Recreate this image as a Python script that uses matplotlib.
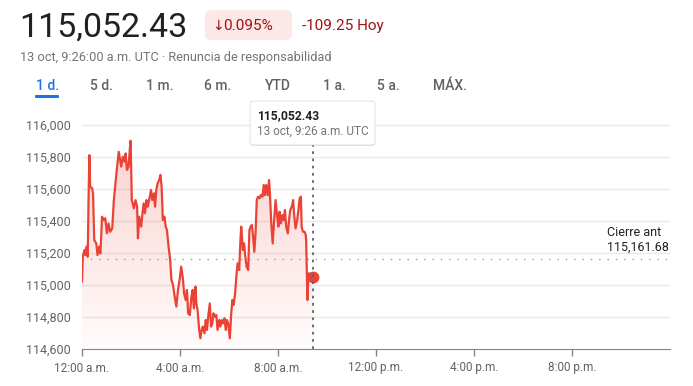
import matplotlib
matplotlib.use('Agg')
import matplotlib.pyplot as plt
import numpy as np
from matplotlib.patches import FancyBboxPatch
from matplotlib.ticker import FuncFormatter

plt.rcParams['font.family'] = ['Roboto', 'DejaVu Sans']

# minutes since 12:00 a.m. (13 oct, UTC) and price
minutes = [0, 2, 6, 8, 11, 14, 16, 18, 20, 25, 27, 30, 35, 38, 42, 45, 47, 49, 53, 57,
           61, 65, 69, 74, 78, 82, 86, 90, 92, 96, 100, 104, 107, 110, 114, 117, 119, 122,
           127, 131, 135, 137, 140, 145, 148, 151, 154, 158, 161, 166, 169, 172, 176, 179,
           182, 185, 189, 192, 195, 198, 202, 205, 208, 212, 216, 219, 223, 227, 231, 235,
           239, 243, 247, 250, 254, 257, 260, 264, 268, 271, 274, 278, 280, 283, 287, 290,
           293, 296, 300, 303, 306, 309, 313, 316, 319, 322, 326, 329, 332, 336, 339, 342,
           345, 349, 352, 355, 358, 362, 365, 368, 371, 375, 378, 381, 385, 388, 390, 394,
           397, 400, 403, 407, 410, 413, 416, 419, 422, 425, 428, 431, 435, 438, 442, 445,
           448, 451, 455, 458, 460, 464, 467, 470, 474, 478, 481, 484, 487, 491, 494, 497,
           500, 504, 507, 510, 514, 517, 520, 523, 527, 530, 533, 536, 538, 541, 545, 548,
           549, 552, 554, 556, 566]
prices = [115021, 115177, 115219, 115188, 115240, 115177, 115531, 115812, 115615, 115604,
          115573, 115281, 115260, 115187, 115240, 115198, 115302, 115427, 115406, 115417,
          115323, 115385, 115333, 115354, 115531, 115635, 115740, 115833, 115802, 115740,
          115802, 115771, 115823, 115719, 115740, 115844, 115902, 115531, 115479, 115531,
          115490, 115292, 115427, 115365, 115448, 115510, 115448, 115531, 115490, 115552,
          115594, 115531, 115573, 115490, 115594, 115635, 115656, 115688, 115615, 115406,
          115427, 115365, 115344, 115240, 115156, 115031, 115000, 114927, 114865, 114969,
          115031, 115115, 115042, 114948, 114906, 114969, 114823, 114812, 114927, 114969,
          114854, 114990, 114885, 114844, 114719, 114667, 114719, 114740, 114698, 114781,
          114719, 114802, 114885, 114740, 114760, 114823, 114802, 114812, 114719, 114781,
          114740, 114781, 114760, 114792, 114719, 114781, 114760, 114667, 114802, 114906,
          114875, 114948, 115052, 115135, 115094, 115281, 115365, 115219, 115260, 115177,
          115115, 115094, 115344, 115365, 115375, 115302, 115208, 115323, 115531, 115552,
          115542, 115562, 115552, 115625, 115562, 115625, 115562, 115656, 115583, 115365,
          115260, 115385, 115531, 115427, 115365, 115458, 115385, 115437, 115406, 115469,
          115365, 115323, 115406, 115469, 115490, 115531, 115427, 115354, 115406, 115469,
          115542, 115552, 115365, 115333, 115333, 115312, 115281, 114906, 115031, 115073,
          115052.43]

prev_close = 115161.68
last_price = 115052.43
y_ticks = [114600, 114800, 115000, 115200, 115400, 115600, 115800, 116000]
x_ticks = [0, 4, 8, 12, 16, 20]
x_labels = ['12:00 a.m.', '4:00 a.m.', '8:00 a.m.', '12:00 p.m.', '4:00 p.m.', '8:00 p.m.']
tabs = ['1 d.', '5 d.', '1 m.', '6 m.', 'YTD', '1 a.', '5 a.', 'MÁX.']
tab_x = [36, 90, 146, 204, 265, 323, 377, 433]

RED = '#ea4335'
W, H = 693, 386

def fx(px):
    return px / W

def fy(py):
    return 1 - py / H

hours = np.array(minutes) / 60.0
prices = np.array(prices)
last_h = hours[-1]

fig = plt.figure(figsize=(W / 100, H / 100), dpi=100)
ax = fig.add_axes([fx(82), fy(349), fx(670) - fx(82), fy(118) - fy(349)])
ax.set_xlim(0, 24)
ax.set_ylim(114600, 116044)

# gridlines
for v in y_ticks[1:]:
    ax.axhline(v, color='#e8eaed', lw=1, zorder=0)

# gradient fill under the line
poly = ax.fill_between(hours, prices, 114600, color='none', lw=0)
grad = np.linspace(0, 1, 256).reshape(-1, 1)
rgba = np.zeros((256, 1, 4))
rgba[..., :3] = matplotlib.colors.to_rgb(RED)
rgba[..., 3] = 0.02 + 0.22 * grad
img = ax.imshow(rgba, extent=[0, last_h, 114600, prices.max()], origin='lower',
                aspect='auto', zorder=1)
img.set_clip_path(poly.get_paths()[0], transform=ax.transData)

ax.plot(hours, prices, color=RED, lw=1.6, zorder=3, solid_joinstyle='round')
ax.plot([last_h], [last_price], 'o', color=RED, ms=7.5, zorder=4)

# previous close
ax.axhline(prev_close, color='#9aa0a6', lw=1, ls=(0, (1, 5)), zorder=2)
fig.text(fx(607), fy(233), 'Cierre ant', fontsize=9, color='#202124', va='center')
fig.text(fx(607), fy(247), '115,161.68', fontsize=9, color='#202124', va='center')

# cursor line
ax.plot([last_h, last_h], [114600, 115905], color='#5f6368', lw=1.3,
        ls=(0, (1.5, 2.5)), zorder=5, clip_on=False)

for s in ['top', 'right', 'left']:
    ax.spines[s].set_visible(False)
ax.spines['bottom'].set_color('#80868b')
ax.set_yticks(y_ticks)
ax.yaxis.set_major_formatter(FuncFormatter(lambda v, p: f'{v:,.0f}'))
ax.tick_params(axis='y', length=0, pad=8, labelsize=9, labelcolor='#5f6368')
ax.set_xticks(x_ticks)
ax.set_xticklabels(x_labels)
ax.tick_params(axis='x', length=5, width=1, color='#80868b', pad=4, labelsize=8.5,
               labelcolor='#5f6368')

# tooltip
shadow = FancyBboxPatch((fx(251), fy(146)), fx(375) - fx(251), fy(101) - fy(146),
                        boxstyle='round,pad=0,rounding_size=0.006', transform=fig.transFigure,
                        facecolor='#000000', alpha=0.12, edgecolor='none', zorder=9)
fig.patches.append(shadow)
tip = FancyBboxPatch((fx(250), fy(145)), fx(375) - fx(250), fy(101) - fy(145),
                     boxstyle='round,pad=0,rounding_size=0.006', transform=fig.transFigure,
                     facecolor='white', edgecolor='#dadce0', lw=0.6, zorder=10)
fig.patches.append(tip)
fig.text(fx(257), fy(116), '115,052.43', fontsize=8.7, weight='bold', color='#202124',
         va='center', zorder=11)
fig.text(fx(257), fy(131), '13 oct, 9:26 a.m. UTC', fontsize=8.5, color='#70757a',
         va='center', zorder=11)

# header
fig.text(fx(19), fy(37), '115,052.43', fontsize=24.5, color='#202124', va='baseline')
badge = FancyBboxPatch((fx(205), fy(40)), fx(292) - fx(205), fy(10) - fy(40),
                       boxstyle='round,pad=0,rounding_size=0.012', transform=fig.transFigure,
                       facecolor='#fce8e6', edgecolor='none')
fig.patches.append(badge)
fig.text(fx(212), fy(30), '\u2193', fontsize=10, color='#a50e0e', va='baseline',
         family=['DejaVu Sans'])
fig.text(fx(223), fy(30), '0.095%', fontsize=11, color='#a50e0e', va='baseline')
fig.text(fx(302), fy(30), '-109.25 Hoy', fontsize=11, color='#a50e0e', va='baseline')
fig.text(fx(20), fy(61), '13 oct, 9:26:00 a.m. UTC \u00b7 Renuncia de responsabilidad',
         fontsize=9.2, color='#70757a', va='baseline')

for t, x in zip(tabs, tab_x):
    fig.text(fx(x), fy(90), t, fontsize=10, weight='medium',
             color='#1a73e8' if t == '1 d.' else '#5f6368', va='baseline')
fig.patches.append(FancyBboxPatch((fx(35), fy(98)), fx(59) - fx(35), fy(95) - fy(98),
                                  boxstyle='round,pad=0,rounding_size=0.002',
                                  transform=fig.transFigure, facecolor='#1a73e8',
                                  edgecolor='none'))

fig.savefig('out.png', dpi=100)
